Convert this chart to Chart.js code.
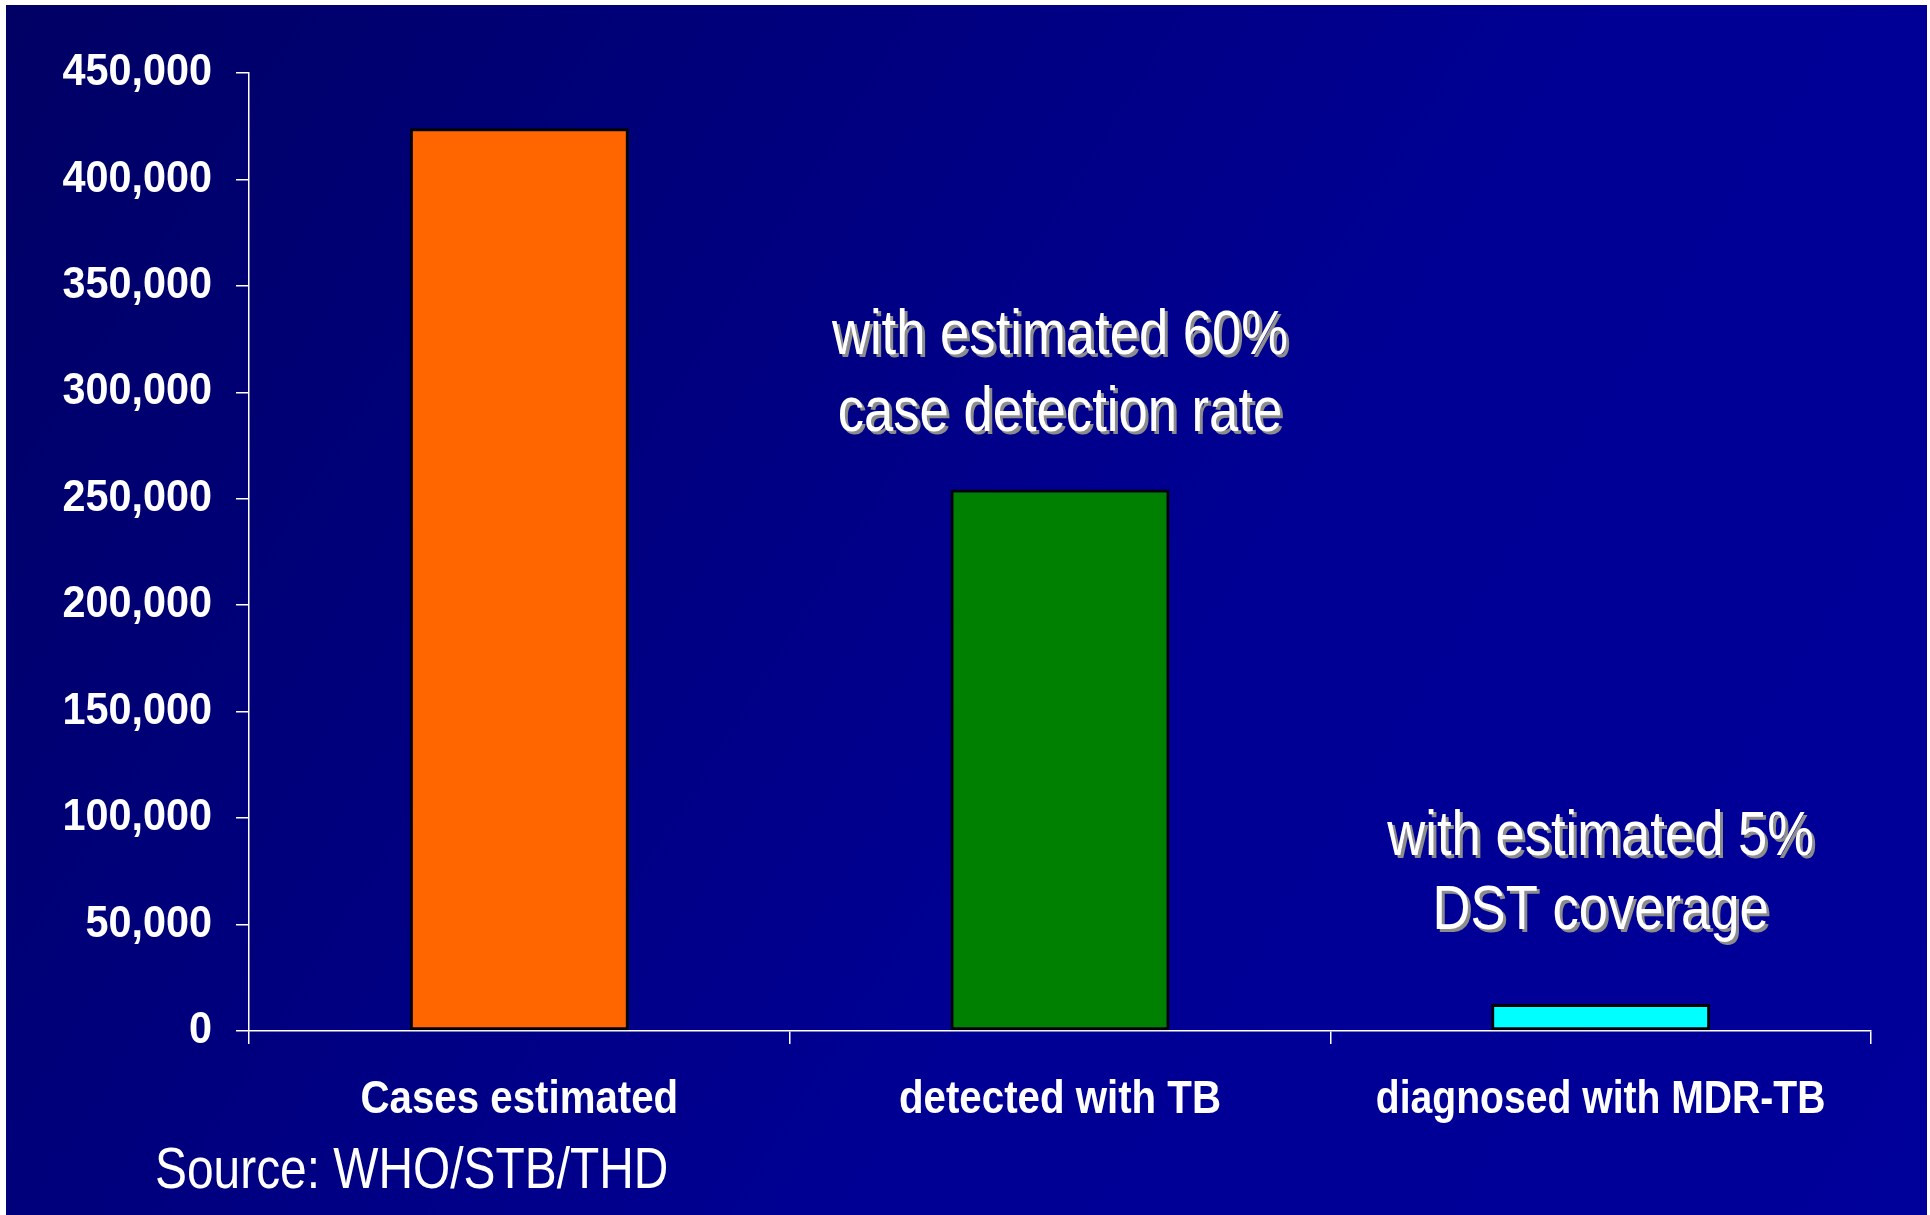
<!DOCTYPE html>
<html>
<head>
<meta charset="utf-8">
<title>MDR-TB cases: estimated, detected, diagnosed</title>
<script src="https://cdn.jsdelivr.net/npm/chart.js@4/dist/chart.umd.min.js"></script>
<style>
  html, body { margin: 0; padding: 0; background: #ffffff; }
  canvas { display: block; }
</style>
</head>
<body>
<canvas id="chart" width="1930" height="1215"></canvas>
<script>
// Categories along the x axis
const categories = ['Cases estimated', 'detected with TB', 'diagnosed with MDR-TB'];
// Number of cases per category
const caseCounts = [424000, 254400, 12720];
// Fill colour of each bar
const barColors = ['#ff6600', '#008000', '#00ffff'];
// y axis tick values
const yTickValues = [0, 50000, 100000, 150000, 200000, 250000, 300000, 350000, 400000, 450000];
// Notes written above the bars: category index, lines of text, y value of each line
const noteCategory = [1, 2];
const noteLines = [
  ['with estimated 60%', 'case detection rate'],
  ['with estimated 5%', 'DST coverage']
];
const noteLineValues = [
  [326000, 290000],
  [91000, 56000]
];
const sourceText = 'Source: WHO/STB/THD';

const FONT = "'Liberation Sans', Arial, Helvetica, sans-serif";

const W = 1930, H = 1215;
const AXIS_LEFT = 249;
const AXIS_BOTTOM = 1031;

// Draws text squeezed horizontally, giving a narrow Helvetica look
function narrowText(ctx, text, x, y, font, squeeze, align, color) {
  ctx.save();
  ctx.font = font;
  ctx.textAlign = align;
  ctx.textBaseline = 'middle';
  ctx.fillStyle = color;
  ctx.translate(x, y);
  ctx.scale(squeeze, 1);
  ctx.fillText(text, 0, 0);
  ctx.restore();
}

const slidePlugin = {
  id: 'slide',
  // Navy slide background with a thin white frame on the top and left edges
  beforeDraw(chart) {
    const ctx = chart.ctx;
    ctx.save();
    ctx.fillStyle = '#ffffff';
    ctx.fillRect(0, 0, W, H);
    const g = ctx.createLinearGradient(0, 0, W, H);
    g.addColorStop(0, '#000064');
    g.addColorStop(0.6, '#000094');
    g.addColorStop(1, '#00009a');
    ctx.fillStyle = g;
    ctx.fillRect(6, 5, W - 9, H - 5);
    ctx.restore();
  },
  afterDraw(chart) {
    const ctx = chart.ctx;
    const xs = chart.scales.x, ys = chart.scales.y;

    // y axis tick labels
    ys.ticks.forEach(t => {
      const y = ys.getPixelForValue(t.value);
      narrowText(ctx, t.value.toLocaleString('en-US'), 212, y, 'bold 44px ' + FONT, 0.94, 'right', '#ffffff');
    });

    // category labels
    categories.forEach((c, i) => {
      const x = xs.getPixelForValue(i);
      const squeeze = i === 2 ? 0.85 : 0.875;
      narrowText(ctx, xs.getLabelForValue(i), x, 1100, 'bold 46px ' + FONT, squeeze, 'center', '#ffffff');
    });

    // notes with a grey drop shadow
    noteLines.forEach((lines, n) => {
      const cx = xs.getPixelForValue(noteCategory[n]);
      lines.forEach((txt, i) => {
        const cy = ys.getPixelForValue(noteLineValues[n][i]);
        narrowText(ctx, txt, cx + 3, cy + 3, '63px ' + FONT, 0.835, 'center', '#8c8c8c');
        narrowText(ctx, txt, cx, cy, '63px ' + FONT, 0.835, 'center', '#ffffff');
      });
    });

    // source line
    narrowText(ctx, sourceText, 155, 1172, '57px ' + FONT, 0.84, 'left', '#ffffff');
  }
};

new Chart(document.getElementById('chart'), {
  type: 'bar',
  data: {
    labels: categories,
    datasets: [{
      data: caseCounts,
      backgroundColor: barColors,
      borderColor: '#000000',
      borderWidth: 3,
      borderSkipped: false,
      categoryPercentage: 1,
      barPercentage: 0.405
    }]
  },
  options: {
    responsive: false,
    devicePixelRatio: 1,
    animation: false,
    layout: { padding: { left: 0, top: 73, right: W - 1871, bottom: 0 } },
    plugins: { legend: { display: false }, tooltip: { enabled: false } },
    scales: {
      x: {
        grid: { display: true, drawOnChartArea: false, drawTicks: true, tickLength: 13, color: '#ffffff', lineWidth: 1.5, offset: true },
        border: { display: true, color: '#ffffff', width: 1.5 },
        ticks: { display: false },
        afterFit(s) { s.height = H - AXIS_BOTTOM; s.paddingLeft = 0; s.paddingRight = 0; }
      },
      y: {
        min: 0,
        max: 450000,
        grid: { display: true, drawOnChartArea: false, drawTicks: true, tickLength: 13, color: '#ffffff', lineWidth: 1.5 },
        border: { display: true, color: '#ffffff', width: 1.5 },
        afterBuildTicks(s) { s.ticks = yTickValues.map(v => ({ value: v })); },
        ticks: { display: false },
        afterFit(s) { s.width = AXIS_LEFT; s.paddingTop = 0; s.paddingBottom = 0; }
      }
    }
  },
  plugins: [slidePlugin]
});
</script>
</body>
</html>
